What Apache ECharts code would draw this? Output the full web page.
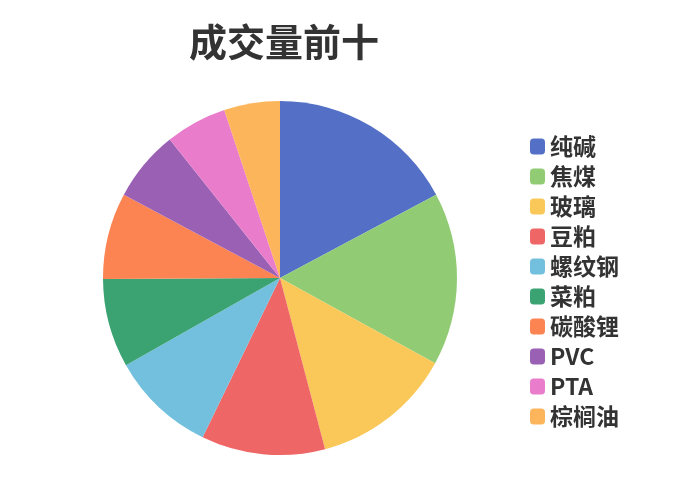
<!DOCTYPE html>
<html>
<head>
<meta charset="utf-8">
<script src="https://cdn.jsdelivr.net/npm/echarts@6/dist/echarts.min.js"></script>
<style>html,body{margin:0;padding:0;background:#fff;}#main{width:700px;height:500px;}</style>
</head>
<body>
<div id="main"></div>
<script>
const titleText = '成交量前十';
const categories = ['纯碱', '焦煤', '玻璃', '豆粕', '螺纹钢', '菜粕', '碳酸锂', 'PVC', 'PTA', '棕榈油'];
const volumes = [172, 158, 129, 113, 96, 81, 79, 65, 56, 51];
const colors = ['#5470c6', '#91cc75', '#fac858', '#ee6666', '#73c0de', '#3ba272', '#fc8452', '#9a60b4', '#ea7ccc', '#fdb55b'];

const chart = echarts.init(document.getElementById('main'));
chart.setOption({
  animation: false,
  color: colors,
  textStyle: { fontFamily: 'Noto Sans CJK SC' },
  title: {
    text: titleText,
    left: 279,
    textAlign: 'center',
    top: 18,
    textStyle: { fontSize: 38, fontWeight: 'bold', color: '#333', fontFamily: 'Noto Sans CJK SC' }
  },
  legend: {
    orient: 'vertical',
    left: 525,
    top: 130,
    itemWidth: 15,
    itemHeight: 16,
    itemGap: 7,
    icon: 'roundRect',
    textStyle: { fontSize: 23, fontWeight: 'bold', color: '#333', fontFamily: 'Noto Sans CJK SC' },
    data: categories
  },
  series: [{
    type: 'pie',
    center: [280, 278],
    radius: 177,
    startAngle: 90,
    clockwise: true,
    label: { show: false },
    labelLine: { show: false },
    data: categories.map((n, i) => ({ name: n, value: volumes[i] }))
  }]
});
</script>
</body>
</html>
